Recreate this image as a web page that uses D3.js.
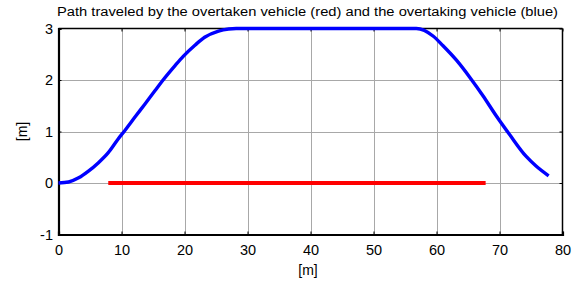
<!DOCTYPE html>
<html>
<head>
<meta charset="utf-8">
<script src="https://cdn.jsdelivr.net/npm/d3@7"></script>
<style>
  body { margin: 0; background: #fff; }
  svg text { font-family: "Liberation Sans", Arial, sans-serif; fill: #000; }
</style>
</head>
<body>
<div id="chart"></div>
<script>
// overtaking vehicle path (blue)
const blueX = [0, 1.6, 3.2, 4.75, 6.3, 7.9, 9.5, 10.6, 12.2, 13.7, 15.3, 16.6, 18.5, 19.8, 21.7, 23.2, 25.4, 27, 28.2, 30, 40, 50, 55, 56.8, 59.5, 61, 63.2, 65.3, 67.4, 69.5, 71.6, 74.2, 75.8, 77.8];
const blueY = [0, 0.02, 0.1, 0.23, 0.39, 0.59, 0.86, 1.03, 1.29, 1.53, 1.79, 2.0, 2.28, 2.46, 2.68, 2.83, 2.95, 2.99, 3, 3, 3, 3, 3, 3, 2.85, 2.67, 2.38, 2.05, 1.69, 1.3, 0.94, 0.52, 0.33, 0.14];
// overtaken vehicle path (red)
const redX = [7.9, 67.8];
const redY = [0, 0];

const xTicks = [0, 10, 20, 30, 40, 50, 60, 70, 80];
const yTicks = [-1, 0, 1, 2, 3];
const title = "Path traveled by the overtaken vehicle (red) and the overtaking vehicle (blue)";

const width = 581, height = 284;
const margin = { top: 28.5, right: 18.5, bottom: 49.5, left: 58.5 };

const x = d3.scaleLinear().domain([0, 80]).range([margin.left, width - margin.right]);
const y = d3.scaleLinear().domain([-1, 3]).range([height - margin.bottom, margin.top]);

const svg = d3.select("#chart").append("svg")
    .attr("width", width)
    .attr("height", height);

// grid
svg.append("g")
    .selectAll("line")
    .data(xTicks.slice(1, -1))
    .join("line")
    .attr("x1", d => Math.round(x(d)) + 0.5).attr("x2", d => Math.round(x(d)) + 0.5)
    .attr("y1", y(-1)).attr("y2", y(3))
    .attr("stroke", "#a8a8a8");

svg.append("g")
    .selectAll("line")
    .data(yTicks.slice(1, -1))
    .join("line")
    .attr("y1", d => Math.round(y(d)) + 0.5).attr("y2", d => Math.round(y(d)) + 0.5)
    .attr("x1", x(0)).attr("x2", x(80))
    .attr("stroke", "#a8a8a8");

// box: top and right
svg.append("line").attr("x1", x(0)).attr("x2", x(80)).attr("y1", y(3)).attr("y2", y(3)).attr("stroke", "#000").attr("stroke-width", 1.5);
svg.append("line").attr("x1", x(80)).attr("x2", x(80)).attr("y1", y(3)).attr("y2", y(-1)).attr("stroke", "#000").attr("stroke-width", 1.5);

// inward ticks on top and right
svg.append("g")
    .attr("transform", `translate(0,${y(3)})`)
    .call(d3.axisBottom(x).tickValues(xTicks).tickSize(3).tickFormat(""))
    .call(g => g.select(".domain").remove());
svg.append("g")
    .attr("transform", `translate(${x(80)},0)`)
    .call(d3.axisLeft(y).tickValues(yTicks).tickSize(3).tickFormat(""))
    .call(g => g.select(".domain").remove());

// bottom axis
const xAxis = svg.append("g")
    .attr("transform", `translate(0,${y(-1)})`)
    .call(d3.axisTop(x).tickValues(xTicks).tickSize(3).tickFormat(d3.format("d")));
xAxis.select(".domain").attr("stroke-width", 2.2);
xAxis.selectAll(".tick text")
    .attr("y", 20.5).attr("dy", null)
    .attr("font-size", "14.5px");

// left axis
const yAxis = svg.append("g")
    .attr("transform", `translate(${x(0)},0)`)
    .call(d3.axisRight(y).tickValues(yTicks).tickSize(3).tickFormat(d => d < 0 ? "-" + Math.abs(d) : String(d)));
yAxis.select(".domain").attr("stroke-width", 2.2);
yAxis.selectAll(".tick text")
    .attr("x", -5.5)
    .attr("text-anchor", "end")
    .attr("font-size", "14.5px");

// lines
const line = d3.line().x(d => x(d[0])).y(d => y(d[1])).curve(d3.curveMonotoneX);

svg.append("path")
    .datum(redX.map((d, i) => [d, redY[i]]))
    .attr("d", line)
    .attr("fill", "none")
    .attr("stroke", "#ff0000")
    .attr("stroke-width", 4);

svg.append("path")
    .datum(blueX.map((d, i) => [d, blueY[i]]))
    .attr("d", line)
    .attr("fill", "none")
    .attr("stroke", "#0000ff")
    .attr("stroke-width", 3.4)
    .attr("stroke-linejoin", "round");

// labels
svg.append("text")
    .attr("x", 57)
    .attr("y", 16)
    .attr("font-size", "12.5px")
    .attr("textLength", 501)
    .attr("lengthAdjust", "spacingAndGlyphs")
    .text(title);

svg.append("text")
    .attr("x", 308)
    .attr("y", 275)
    .attr("text-anchor", "middle")
    .attr("font-size", "14px")
    .text("[m]");

svg.append("text")
    .attr("transform", `translate(27,${(y(-1) + y(3)) / 2}) rotate(-90)`)
    .attr("text-anchor", "middle")
    .attr("font-size", "14px")
    .text("[m]");
</script>
</body>
</html>
